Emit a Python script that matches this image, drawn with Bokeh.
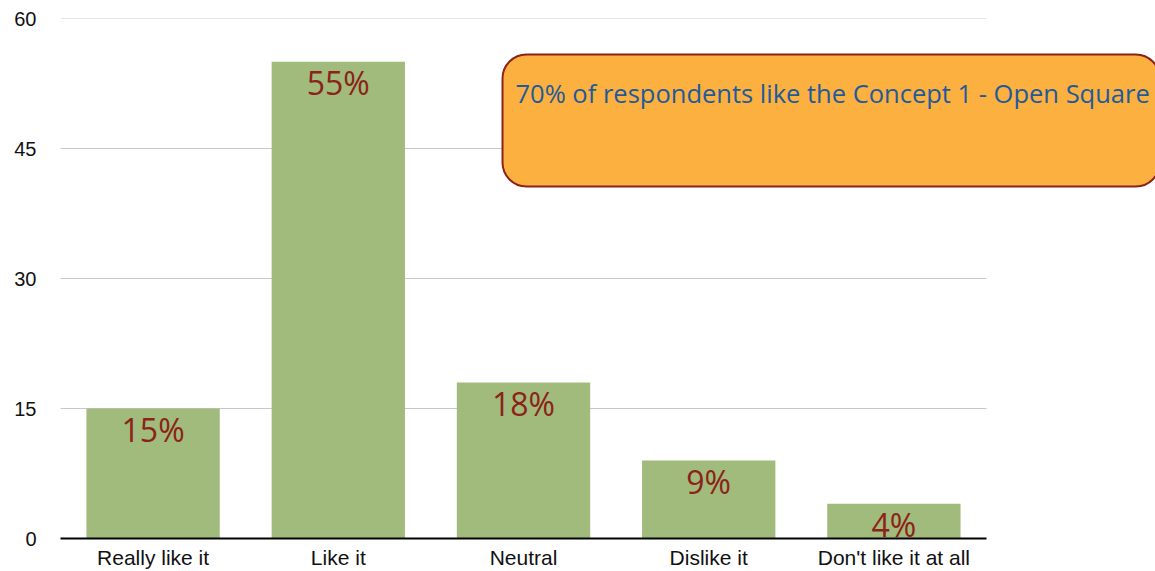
from bokeh.plotting import figure
from bokeh.models import ColumnDataSource, Range1d, FixedTicker, Label, LabelSet
from bokeh.core.properties import value
from bokeh.embed import file_html
from bokeh.resources import INLINE

categories = ["Really like it", "Like it", "Neutral", "Dislike it", "Don't like it at all"]
values = [15, 55, 18, 9, 4]
pct_labels = ["15%", "55%", "18%", "9%", "4%"]
y_ticks = [0, 15, 30, 45, 60]
note_text = "70% of respondents like the Concept 1 - Open Square"

n = len(categories)
xpos = [i + 0.5 for i in range(n)]

src = ColumnDataSource(dict(x=xpos, cat=categories, val=values, lbl=pct_labels))
grid_src = ColumnDataSource(dict(y=y_ticks[1:], x0=[0] * (len(y_ticks) - 1), x1=[n] * (len(y_ticks) - 1)))

# frame: plotting band 926px wide for n categories, extra room on the right for the callout
FRAME_W = 1155 - 60
BAND_PX = 926 / n

p = figure(
    x_range=Range1d(0, FRAME_W / BAND_PX),
    y_range=Range1d(0, 60),
    width=1155, height=571,
    output_backend="svg", toolbar_location=None,
    min_border_left=60, min_border_right=0,
    min_border_top=18, min_border_bottom=33,
)
p.outline_line_color = None
p.background_fill_color = "white"
p.border_fill_color = "white"
p.xgrid.grid_line_color = None
p.ygrid.grid_line_color = None

# horizontal gridlines limited to the category area
p.segment(x0="x0", x1="x1", y0="y", y1="y", source=grid_src,
          line_color="#C8C8C8", line_width=1)

p.vbar(x="x", top="val", width=0.72, source=src,
       fill_color="#A1BB7D", line_color=None)

labels = LabelSet(x="x", y="val", text="lbl", source=src,
                  text_align="center", text_baseline="middle", y_offset=-21,
                  text_font=value("Open Sans"), text_font_size="32px",
                  text_color="#8B2318")
p.add_layout(labels)

# y axis
p.yaxis.ticker = FixedTicker(ticks=y_ticks)
p.yaxis.axis_line_color = None
p.yaxis.major_tick_line_color = None
p.yaxis.major_tick_out = 0
p.yaxis.major_tick_in = 0
p.yaxis.minor_tick_line_color = None
p.yaxis.major_label_standoff = 24
p.yaxis.major_label_text_font = "Liberation Sans"
p.yaxis.major_label_text_font_size = "20px"
p.yaxis.major_label_text_color = "#111111"

# x axis
p.xaxis.ticker = FixedTicker(ticks=xpos)
p.xaxis.major_label_overrides = {x: c for x, c in zip(xpos, categories)}
p.xaxis.bounds = (0, n)
p.xaxis.axis_line_color = "black"
p.xaxis.axis_line_width = 2
p.xaxis.major_tick_line_color = None
p.xaxis.major_tick_out = 0
p.xaxis.major_tick_in = 0
p.xaxis.minor_tick_line_color = None
p.xaxis.major_label_standoff = 7
p.xaxis.major_label_text_font = "Liberation Sans"
p.xaxis.major_label_text_font_size = "21px"
p.xaxis.major_label_text_color = "#111111"

note = Label(
    x=442, y=484, x_units="screen", y_units="screen",
    text=note_text, text_align="left", text_baseline="top",
    text_font="Open Sans", text_font_size="25.5px", text_color="#1F5A9A",
    background_fill_color="#FBB040", background_fill_alpha=1.0,
    border_line_color="#8B2318", border_line_width=2,
    padding=dict(left=13, right=10, top=21, bottom=77),
    border_radius=24,
)
p.add_layout(note)

open("out.html", "w").write(file_html(p, INLINE))
